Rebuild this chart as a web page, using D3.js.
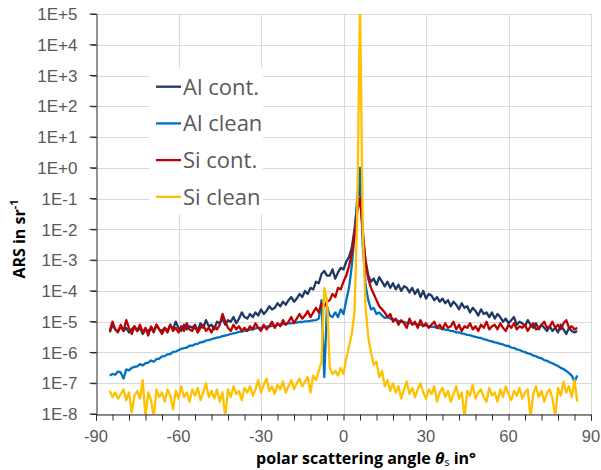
<!DOCTYPE html>
<html>
<head>
<meta charset="utf-8">
<script src="https://cdn.jsdelivr.net/npm/d3@7"></script>
<style>
  body { margin: 0; background: #fff; }
  svg { display: block; font-family: "Open Sans", sans-serif; }
</style>
</head>
<body>
<svg id="chart" width="601" height="470"></svg>
<script>
// sample grid, 1 degree steps
var angles = d3.range(-85, 86);

// series values are stored as log10(ARS in sr^-1), one per angle
var alCont = [
  -5.35,-5.1,-5.25,-5.3,-5.15,-5.3,-5.2,-5.35,-5.25,-5.15,
  -5.3,-5.2,-5.4,-5.25,-5.3,-5.2,-5.35,-5.1,-5.25,-5.3,
  -5.2,-5.3,-5.1,-5.25,-5.0,-5.2,-5.3,-5.1,-5.25,-5.15,
  -5.2,-5.1,-5.3,-5.05,-5.2,-4.95,-5.15,-5.1,-5.25,-5.0,
  -5.05,-4.9,-5.1,-4.95,-5.0,-4.85,-5.05,-4.9,-4.7,-4.85,
  -4.9,-4.75,-4.85,-4.7,-4.8,-4.6,-4.75,-4.65,-4.5,-4.6,
  -4.55,-4.4,-4.5,-4.35,-4.45,-4.3,-4.2,-4.35,-4.25,-4.1,
  -4.2,-4.0,-4.1,-3.9,-3.95,-3.7,-3.75,-3.45,-3.35,-3.5,
  -3.5,-3.3,-3.6,-3.4,-3.25,-3.3,-3.05,-2.9,-2.6,-2.0,
  -1.2,-0.4,-2.2,-3.0,-3.5,-3.7,-3.6,-3.8,-3.55,-3.7,
  -3.85,-3.7,-3.9,-3.75,-3.95,-3.8,-4.0,-3.85,-3.9,-4.05,
  -3.9,-4.1,-3.95,-4.2,-4.0,-4.25,-4.1,-4.15,-4.3,-4.2,
  -4.35,-4.25,-4.4,-4.3,-4.5,-4.35,-4.45,-4.6,-4.4,-4.55,
  -4.5,-4.7,-4.55,-4.65,-4.8,-4.6,-4.75,-4.7,-4.85,-4.7,
  -4.9,-4.75,-4.85,-5.0,-4.9,-5.05,-4.95,-4.85,-5.1,-5.0,
  -5.05,-5.15,-4.95,-5.1,-5.2,-5.05,-5.25,-5.1,-5.2,-5.3,
  -5.15,-5.3,-5.2,-5.35,-5.1,-5.25,-5.4,-5.2,-5.3,-5.35,
  -5.3
];

var alClean = [
  -6.75,-6.7,-6.72,-6.62,-6.65,-6.85,-6.55,-6.58,-6.5,-6.47,
  -6.45,-6.38,-6.42,-6.35,-6.33,-6.26,-6.3,-6.22,-6.2,-6.13,
  -6.12,-6.06,-6.05,-5.98,-5.97,-5.93,-5.88,-5.86,-5.84,-5.78,
  -5.78,-5.73,-5.72,-5.67,-5.66,-5.61,-5.6,-5.57,-5.54,-5.52,
  -5.5,-5.47,-5.45,-5.43,-5.4,-5.38,-5.36,-5.33,-5.32,-5.3,
  -5.28,-5.26,-5.25,-5.22,-5.2,-5.2,-5.17,-5.16,-5.14,-5.14,
  -5.12,-5.1,-5.1,-5.08,-5.08,-5.05,-5.05,-5.03,-5.03,-5.01,
  -5.01,-4.99,-4.99,-4.97,-4.96,-4.95,-4.9,-4.3,-6.8,-4.5,
  -4.8,-4.85,-4.7,-4.85,-4.6,-4.75,-4.3,-3.9,-3.2,-2.2,
  -1.0,0.0,-2.5,-3.8,-4.3,-4.6,-4.55,-4.75,-4.7,-4.8,
  -4.88,-4.85,-4.9,-4.92,-4.95,-4.97,-5.0,-5.01,-5.04,-5.04,
  -5.06,-5.08,-5.09,-5.1,-5.12,-5.13,-5.15,-5.17,-5.17,-5.2,
  -5.22,-5.23,-5.26,-5.27,-5.3,-5.31,-5.35,-5.35,-5.38,-5.4,
  -5.43,-5.44,-5.47,-5.49,-5.52,-5.53,-5.57,-5.59,-5.62,-5.64,
  -5.67,-5.69,-5.72,-5.74,-5.78,-5.79,-5.84,-5.85,-5.9,-5.92,
  -5.96,-5.99,-6.03,-6.05,-6.1,-6.12,-6.17,-6.19,-6.25,-6.27,
  -6.32,-6.35,-6.4,-6.44,-6.5,-6.54,-6.6,-6.67,-6.75,-6.95,
  -6.75
];

var siCont = [
  -5.3,-5.0,-5.25,-5.35,-5.1,-5.3,-4.95,-5.2,-5.4,-5.15,
  -5.3,-5.1,-5.35,-5.2,-5.45,-5.15,-5.3,-5.1,-5.25,-5.4,
  -5.2,-5.35,-5.1,-5.3,-5.2,-5.35,-5.15,-5.3,-5.05,-5.25,
  -5.3,-5.15,-5.35,-5.2,-5.1,-5.3,-5.2,-5.35,-5.15,-5.25,
  -5.1,-4.75,-5.0,-5.2,-5.3,-5.1,-5.25,-5.15,-5.3,-5.2,
  -5.3,-5.15,-5.25,-5.05,-5.2,-5.3,-5.1,-5.25,-5.15,-5.0,
  -5.2,-5.05,-5.15,-4.95,-5.1,-5.0,-4.85,-5.05,-4.9,-4.75,
  -4.9,-4.8,-4.65,-4.85,-4.7,-4.55,-4.7,-4.4,-4.5,-4.35,
  -4.3,-4.1,-4.2,-3.9,-3.95,-3.7,-3.5,-3.2,-2.8,-2.2,
  -1.4,-1.0,-2.0,-3.1,-3.6,-3.9,-4.1,-4.3,-4.5,-4.6,
  -4.7,-4.85,-4.75,-5.0,-4.9,-5.1,-4.95,-5.05,-5.2,-4.9,
  -5.1,-5.0,-5.2,-4.95,-5.15,-5.05,-5.2,-5.1,-5.0,-5.2,
  -5.1,-5.25,-5.05,-5.2,-5.15,-5.0,-5.25,-5.1,-5.3,-5.15,
  -5.2,-5.05,-5.25,-5.15,-5.3,-5.1,-5.2,-5.0,-5.25,-5.15,
  -5.1,-5.25,-5.05,-5.2,-5.3,-5.1,-5.2,-5.05,-5.25,-5.15,
  -5.2,-5.1,-5.3,-5.15,-5.05,-5.25,-5.2,-5.1,-5.0,-5.2,
  -5.15,-5.0,-5.2,-5.1,-5.25,-5.05,-4.95,-5.2,-5.15,-5.25,
  -5.2
];

var siClean = [
  -7.25,-7.45,-7.3,-7.5,-7.35,-7.2,-7.55,-7.3,-7.95,-7.4,
  -7.25,-7.5,-6.9,-8.1,-7.3,-7.55,-8.1,-7.2,-7.45,-7.3,
  -7.6,-7.2,-7.4,-7.85,-7.25,-7.5,-7.1,-7.45,-7.3,-7.6,
  -7.2,-7.4,-7.15,-7.55,-7.3,-7.0,-7.45,-7.25,-7.5,-7.2,
  -7.6,-7.3,-8.1,-7.2,-7.45,-7.1,-7.35,-7.25,-7.55,-7.15,
  -7.3,-7.1,-7.4,-7.2,-6.9,-7.3,-7.05,-6.85,-7.25,-7.1,
  -7.35,-7.05,-7.2,-6.95,-7.3,-7.1,-6.9,-7.2,-7.0,-6.85,
  -7.1,-6.95,-6.8,-7.3,-6.75,-6.9,-6.6,-6.3,-3.9,-4.3,
  -6.5,-6.7,-6.6,-6.75,-6.5,-6.7,-6.2,-5.8,-5.4,-4.7,
  -1.5,5.5,-2.0,-4.5,-5.5,-6.0,-6.4,-6.3,-6.8,-6.6,
  -7.1,-6.9,-7.25,-7.0,-7.3,-7.1,-7.5,-7.2,-6.95,-7.35,
  -7.15,-7.45,-7.2,-7.0,-7.3,-7.5,-7.2,-7.35,-7.1,-7.6,
  -7.3,-7.15,-7.45,-7.25,-7.6,-7.35,-7.1,-7.5,-7.3,-8.1,
  -7.25,-7.4,-7.05,-7.5,-7.3,-7.2,-7.45,-7.6,-7.15,-7.4,
  -7.3,-7.6,-7.2,-7.45,-7.1,-7.35,-7.55,-7.25,-7.4,-7.15,
  -7.5,-7.3,-7.2,-8.1,-7.35,-7.1,-7.45,-7.25,-7.6,-7.3,
  -7.2,-7.5,-8.1,-7.15,-7.4,-6.95,-7.3,-7.1,-7.45,-6.9,
  -7.6
];

var seriesNames = ["Al cont.", "Al clean", "Si cont.", "Si clean"];
var seriesColors = ["#1f3864", "#0070c0", "#c00000", "#ffc000"];
var seriesValues = [alCont, alClean, siCont, siClean];

var xTickValues = [-90, -60, -30, 0, 30, 60, 90];
var yTickValues = [1e-8, 1e-7, 1e-6, 1e-5, 1e-4, 1e-3, 1e-2, 1e-1, 1e0, 1e1, 1e2, 1e3, 1e4, 1e5];

var margin = {left: 96, right: 10, top: 14, bottom: 56};
var width = 601, height = 470;

var svg = d3.select("#chart");

var x = d3.scaleLinear()
  .domain([-90, 90])
  .range([margin.left, width - margin.right]);

var y = d3.scaleLog()
  .domain([1e-8, 1e5])
  .range([height - margin.bottom, margin.top]);

function expLabel(v) {
  var e = Math.round(Math.log10(v));
  return "1E" + (e < 0 ? "-" : "+") + Math.abs(e);
}

// gridlines
var grid = svg.append("g").attr("class", "grid");
grid.selectAll(".hgrid")
  .data(yTickValues)
  .enter().append("line")
  .attr("x1", x(-90)).attr("x2", x(90))
  .attr("y1", function(d) { return Math.round(y(d)) + 0.5; })
  .attr("y2", function(d) { return Math.round(y(d)) + 0.5; })
  .attr("stroke", "#d9d9d9");
grid.selectAll(".vgrid")
  .data(xTickValues.slice(1))
  .enter().append("line")
  .attr("x1", function(d) { return Math.round(x(d)) + 0.5; })
  .attr("x2", function(d) { return Math.round(x(d)) + 0.5; })
  .attr("y1", y(1e5)).attr("y2", y(1e-8))
  .attr("stroke", "#d9d9d9");

// series
svg.append("clipPath").attr("id", "plot-clip")
  .append("rect")
  .attr("x", x(-90)).attr("y", y(1e5))
  .attr("width", x(90) - x(-90))
  .attr("height", y(1e-8) - y(1e5));

var line = d3.line()
  .x(function(d) { return x(d[0]); })
  .y(function(d) { return y(Math.pow(10, d[1])); });

var plot = svg.append("g").attr("clip-path", "url(#plot-clip)");
seriesValues.forEach(function(vals, i) {
  plot.append("path")
    .datum(angles.map(function(a, j) { return [a, vals[j]]; }))
    .attr("fill", "none")
    .attr("stroke", seriesColors[i])
    .attr("stroke-width", 2.3)
    .attr("stroke-linejoin", "round")
    .attr("d", line);
});

// y axis
var yAxis = svg.append("g")
  .attr("transform", "translate(" + (x(-90) + 0.5) + ",0)")
  .call(d3.axisLeft(y).tickValues(y.ticks()).tickSize(5).tickFormat(""));
yAxis.selectAll(".tick line").attr("stroke", "#262626");
yAxis.select(".domain").attr("stroke", "#262626");
yAxis.selectAll(".major")
  .data(yTickValues)
  .enter().append("line")
  .attr("x1", -7).attr("x2", 0)
  .attr("y1", function(d) { return y(d); })
  .attr("y2", function(d) { return y(d); })
  .attr("stroke", "#262626");
yAxis.selectAll(".lbl")
  .data(yTickValues)
  .enter().append("text")
  .attr("x", -19)
  .attr("y", function(d) { return y(d); })
  .attr("dy", "0.36em")
  .attr("text-anchor", "end")
  .attr("fill", "#595959")
  .attr("font-size", 17)
  .text(expLabel);

// x axis
var xAxis = svg.append("g")
  .attr("transform", "translate(0," + (y(1e-8) + 0.5) + ")")
  .call(d3.axisBottom(x).tickValues(d3.range(-90, 91, 6)).tickSize(6).tickFormat(""));
xAxis.selectAll(".tick line").attr("stroke", "#262626");
xAxis.select(".domain").attr("stroke", "#262626");
xAxis.selectAll(".lbl")
  .data(xTickValues)
  .enter().append("text")
  .attr("x", function(d) { return x(d); })
  .attr("y", 27.5)
  .attr("text-anchor", "middle")
  .attr("fill", "#595959")
  .attr("font-size", 16.5)
  .text(function(d) { return d; });

// axis titles
var xTitle = svg.append("text")
  .attr("x", 366)
  .attr("y", 464)
  .attr("text-anchor", "middle")
  .attr("font-size", 16)
  .attr("font-weight", "bold")
  .attr("fill", "#000");
xTitle.append("tspan").text("polar scattering angle ");
xTitle.append("tspan").attr("font-style", "italic").text("θ");
xTitle.append("tspan").attr("font-size", 11).attr("font-weight", "normal").attr("dy", 2).text("s");
xTitle.append("tspan").attr("dy", -2).text(" in°");

var yTitle = svg.append("text")
  .attr("transform", "translate(25,239) rotate(-90)")
  .attr("text-anchor", "middle")
  .attr("font-size", 16)
  .attr("font-weight", "bold")
  .attr("fill", "#000");
yTitle.append("tspan").text("ARS in sr");
yTitle.append("tspan").attr("font-size", 11).attr("dy", -7).text("-1");

// legend
var legend = svg.append("g");
legend.append("rect")
  .attr("x", 149).attr("y", 68)
  .attr("width", 114).attr("height", 146)
  .attr("fill", "#fff");
var rows = legend.selectAll(".row")
  .data(seriesNames)
  .enter().append("g")
  .attr("transform", function(d, i) { return "translate(156," + (86.7 + i * 36.7) + ")"; });
rows.append("line")
  .attr("x1", 0).attr("x2", 25)
  .attr("stroke", function(d, i) { return seriesColors[i]; })
  .attr("stroke-width", 2.3);
rows.append("text")
  .attr("x", 27)
  .attr("dy", "0.36em")
  .attr("font-size", 22)
  .attr("fill", "#595959")
  .text(function(d) { return d; });
</script>
</body>
</html>
